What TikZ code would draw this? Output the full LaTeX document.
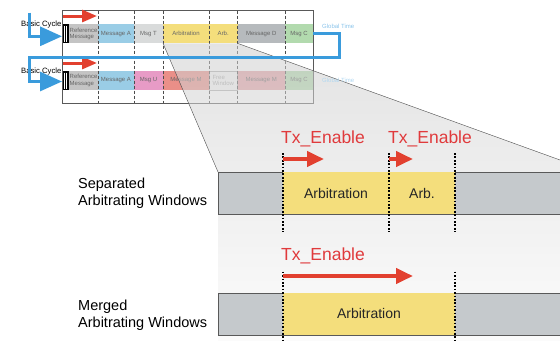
\documentclass[tikz,border=0pt]{standalone}
\usepackage{fontspec}
\setmainfont{Liberation Sans}
\usetikzlibrary{arrows.meta,positioning}

\definecolor{cyclblue}{HTML}{3A9BDC}
\definecolor{txred}{HTML}{E2402F}
\definecolor{txtext}{HTML}{E03A3C}
\definecolor{refgray}{HTML}{C4C4C4}
\definecolor{msgblue}{HTML}{9ACDE6}
\definecolor{msglight}{HTML}{D9DBDB}
\definecolor{arbyellow}{HTML}{F4DE7C}
\definecolor{msgdgray}{HTML}{B6BABD}
\definecolor{msggreen}{HTML}{B2DAAE}
\definecolor{msgpink}{HTML}{E79BC6}
\definecolor{msgsalmon}{HTML}{EA8F88}
\definecolor{msgrose}{HTML}{E6A3A8}
\definecolor{freewin}{HTML}{F6F6F6}
\definecolor{bandgray}{HTML}{C5C9CC}

\begin{document}
\begin{tikzpicture}[x=1pt,y=-1pt,
  cell/.style={anchor=north west, minimum height=19pt, inner sep=0pt, outer sep=0pt, align=center, font=\fontsize{6}{6.6}\selectfont, text=black!60},
  small/.style={inner sep=0pt, font=\fontsize{6}{6.6}\selectfont},
  band/.style={anchor=north west, minimum width=342pt, minimum height=42pt, inner sep=0pt, outer sep=0pt, fill=bandgray, draw=gray!70!black, line width=0.4pt},
  window/.style={anchor=north west, minimum height=42pt, inner sep=0pt, outer sep=0pt, fill=arbyellow, font=\fontsize{14}{16}\selectfont, text=black!85},
  slot/.style={line width=2pt, dash pattern=on 1.7pt off 1.7pt},
  cycarrow/.style={cyclblue, line width=3pt, -{Triangle[length=22pt,width=19pt]}},
  txsmall/.style={txred, line width=3pt, -{Triangle[length=15pt,width=12pt]}},
  txarrow/.style={txred, line width=4pt, -{Triangle[length=17pt,width=15pt]}},
  txlabel/.style={anchor=base west, inner sep=0pt, text=txtext, font=\fontsize{17.5}{20}\selectfont},
  sidelabel/.style={anchor=north west, inner sep=0pt, align=left, font=\fontsize{14.5}{17}\selectfont}]
\useasboundingbox (0,0) rectangle (560,341);

\foreach \x/\w/\c/\t [count=\i] in {62/36/refgray/{}, 98/36/msgblue/Message A, 134/29/msglight/Msg T,
    163/46/arbyellow/Arbitration, 209/28.5/arbyellow/Arb., 237.5/47.5/msgdgray/Message D, 285/28/msggreen/Msg C}
  \node[cell, fill=\c, minimum width=\w pt] (r1c\i) at (\x,24.3) {\t};
\foreach \x/\w/\c/\t [count=\i] in {62/36/refgray/{}, 98/36/msgblue/Message A, 134/29/msgpink/Msg U,
    163/46/msgsalmon/Message M, 209/28.5/freewin/{}, 237.5/47.5/msgrose/Message M, 285/28/msggreen/Msg C}
  \node[cell, fill=\c, minimum width=\w pt] (r2c\i) at (\x,71) {\t};
\draw[gray!60, line width=0.4pt] (r2c5.north west) rectangle (r2c5.south east);
\node[small, align=left, text=gray!70] (free) at (r2c5) {Free\\Window};

\foreach \r in {1,2} {
  \fill[black] (r\r c1.north west) rectangle ([xshift=7pt]r\r c1.south west);
  \draw[white, line width=0.4pt] ([xshift=2.5pt,yshift=-1.5pt]r\r c1.north west) -- ([xshift=2.5pt,yshift=1.5pt]r\r c1.south west)
    ([xshift=4.5pt,yshift=-1.5pt]r\r c1.north west) -- ([xshift=4.5pt,yshift=1.5pt]r\r c1.south west);
  \node[small, align=left, anchor=west, text=black!60] (ref\r) at ([xshift=7.5pt]r\r c1.west) {Reference\\Message};
}

\draw[gray!70!black, line width=0.5pt] (62,10.7) rectangle (313,103.3);
\foreach \x in {98,134,163,209,237.5,285}
  \draw[black!70, densely dashed, line width=0.5pt] (\x,10.7) -- (\x,103.3);

\node[anchor=west, inner sep=0pt, font=\fontsize{7.7}{8}\selectfont] (cyc1) at (21,25) {Basic Cycle};
\node[anchor=west, inner sep=0pt, font=\fontsize{7.7}{8}\selectfont] (cyc2) at (21,71.7) {Basic Cycle};
\draw[txsmall] (63,16) -- (97,16);
\draw[txsmall] (63,63) -- (97,63);

\shade[top color=gray!40, bottom color=gray!5, fill opacity=0.55]
  (163,43.3) -- (237.5,43.3) -- (560,160) -- (560,341) -- (218,341) -- (218,172) -- cycle;
\draw[gray!60!black, line width=0.4pt] (163,43.3) -- (218,172) (237.5,43.3) -- (560,160);

\node[small, anchor=west, text=cyclblue!60] (gt1) at (322,26.7) {Global Time};
\node[small, anchor=west, text=cyclblue!40] (gt2) at (322,80) {Global Time};
\draw[cycarrow] (29,12.7) |- ([yshift=-2.5pt]r1c1.west);
\draw[cycarrow] (r1c7.east) -| (339,57) -| ([xshift=-33pt,yshift=-1pt]r2c1.west) -- ([yshift=-1pt]r2c1.west);

\node[band] (sepband) at (218,172) {};
\node[window, minimum width=106pt] (arbA) at (283,172) {Arbitration};
\node[window, minimum width=66pt] (arbB) at (389,172) {Arb.};
\node[band] (mrgband) at (218,292.7) {};
\node[window, minimum width=172pt] (arbM) at (283,292.7) {Arbitration};

\draw[slot] ([yshift=19pt]arbA.north west) -- ([yshift=-18pt]arbA.south west);
\draw[slot] ([yshift=19pt]arbB.north west) -- ([yshift=-18pt]arbB.south west);
\draw[slot] ([yshift=19pt]arbB.north east) -- ([yshift=-18pt]arbB.south east);
\draw[slot] ([yshift=21pt]arbM.north west) -- (283,341);
\draw[slot] ([yshift=21pt]arbM.north east) -- (455,341);

\draw[txarrow] ([yshift=13pt]arbA.north west) -- ++(41,0);
\draw[txarrow] ([yshift=13pt]arbB.north west) -- ++(24,0);
\draw[txarrow] ([yshift=16.7pt]arbM.north west) -- ++(130,0);
\node[txlabel] (txA) at (281,143) {Tx\_Enable};
\node[txlabel] (txB) at (388,143) {Tx\_Enable};
\node[txlabel] (txM) at (281,260) {Tx\_Enable};

\node[sidelabel] (sep) at (78,177.7) {Separated\\Arbitrating Windows};
\node[sidelabel] (mrg) at (78,299.5) {Merged\\Arbitrating Windows};
\end{tikzpicture}
\end{document}
